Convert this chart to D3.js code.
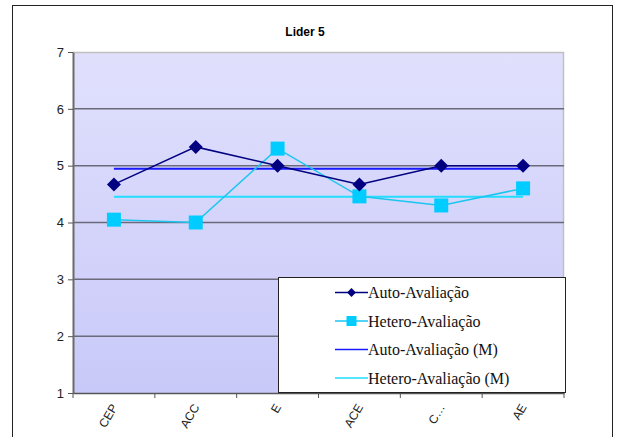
<!DOCTYPE html>
<html>
<head>
<meta charset="utf-8">
<script src="https://cdn.jsdelivr.net/npm/d3@7"></script>
<style>
  html, body { margin: 0; padding: 0; background: #fff; }
  svg { display: block; }
</style>
</head>
<body>
<svg id="chart" width="619" height="437"></svg>
<script>
// Competency categories and the two rating series for leader 5
const categories = ["CEP", "ACC", "E", "ACE", "C…", "AE"];
const autoValues = [4.67, 5.33, 5.0, 4.67, 5.0, 5.0];
const heteroValues = [4.05, 4.0, 5.3, 4.46, 4.3, 4.6];
const yTicks = [1, 2, 3, 4, 5, 6, 7];
const seriesNames = ["Auto-Avaliação", "Hetero-Avaliação", "Auto-Avaliação (M)", "Hetero-Avaliação (M)"];

const autoMean = d3.mean(autoValues);
const heteroMean = d3.mean(heteroValues);

const svg = d3.select("#chart");
const plot = { left: 73, top: 52, right: 564, bottom: 393 };

// Outer chart frame
svg.append("rect")
  .attr("x", 12.5).attr("y", 5.5)
  .attr("width", 600).attr("height", 440)
  .attr("fill", "#fff").attr("stroke", "#222").attr("stroke-width", 1);

// Title
svg.append("text")
  .attr("x", 305).attr("y", 36)
  .attr("text-anchor", "middle")
  .attr("font-family", "Liberation Sans, Arial, sans-serif")
  .attr("font-size", 12).attr("font-weight", "bold")
  .text("Lider 5");

const x = d3.scaleBand().domain(categories).range([plot.left, plot.right]);
const y = d3.scaleLinear().domain([1, 7]).range([plot.bottom, plot.top]);
const cx = d => x(d) + x.bandwidth() / 2;

// Plot background gradient
const defs = svg.append("defs");
const grad = defs.append("linearGradient").attr("id", "bg").attr("x1", 0).attr("y1", 0).attr("x2", 0).attr("y2", 1);
grad.append("stop").attr("offset", "0%").attr("stop-color", "#e0e0fd");
grad.append("stop").attr("offset", "100%").attr("stop-color", "#c9c9f9");

svg.append("rect")
  .attr("x", plot.left).attr("y", plot.top)
  .attr("width", plot.right - plot.left).attr("height", plot.bottom - plot.top)
  .attr("fill", "url(#bg)");

// Light frame on top and right
svg.append("path")
  .attr("d", `M${plot.left},${plot.top + 0.5}H${plot.right - 0.5}V${plot.bottom}`)
  .attr("fill", "none").attr("stroke", "#c0c0c0").attr("stroke-width", 1.5);

// Horizontal gridlines
svg.append("g").selectAll("line")
  .data(yTicks.filter(t => t > 1 && t < 7))
  .join("line")
  .attr("x1", plot.left).attr("x2", plot.right)
  .attr("y1", d => y(d)).attr("y2", d => y(d))
  .attr("stroke", "#6a6a7a").attr("stroke-width", 1.5);

// Y axis
const yAxis = svg.append("g")
  .attr("transform", `translate(${plot.left},0)`)
  .call(d3.axisLeft(y).tickValues(yTicks).tickSize(5).tickSizeOuter(0).tickFormat(d3.format("d")));
yAxis.select(".domain").attr("stroke", "#6a6a6a").attr("stroke-width", 2);
yAxis.selectAll(".tick line").attr("stroke", "#555");
yAxis.selectAll("text")
  .attr("font-family", "Liberation Sans, Arial, sans-serif")
  .attr("font-size", 13).attr("fill", "#222").attr("x", -9);

// X axis
const xAxis = svg.append("g")
  .attr("transform", `translate(0,${plot.bottom})`)
  .call(d3.axisBottom(x).tickSize(0).tickSizeOuter(0));
xAxis.select(".domain").attr("stroke", "#555").attr("stroke-width", 1.5);
xAxis.selectAll("text")
  .attr("font-family", "Liberation Sans, Arial, sans-serif")
  .attr("font-size", 12).attr("fill", "#222")
  .attr("text-anchor", "end")
  .attr("dy", 0).attr("y", 0)
  .attr("transform", "translate(4,14) rotate(-60)");
// Category boundary ticks
svg.append("g").selectAll("line")
  .data(d3.range(categories.length + 1))
  .join("line")
  .attr("x1", i => plot.left + i * x.bandwidth())
  .attr("x2", i => plot.left + i * x.bandwidth())
  .attr("y1", plot.bottom).attr("y2", plot.bottom + 5)
  .attr("stroke", "#555").attr("stroke-width", 1);

// Mean lines
svg.append("line")
  .attr("x1", cx(categories[0])).attr("x2", cx(categories[categories.length - 1]))
  .attr("y1", y(heteroMean)).attr("y2", y(heteroMean))
  .attr("stroke", "#22ddff").attr("stroke-width", 2);
svg.append("line")
  .attr("x1", cx(categories[0])).attr("x2", cx(categories[categories.length - 1]))
  .attr("y1", y(autoMean)).attr("y2", y(autoMean))
  .attr("stroke", "#1a1aff").attr("stroke-width", 2);

const line = d3.line().x((d, i) => cx(categories[i])).y(d => y(d));

// Hetero-evaluation series
svg.append("path").datum(heteroValues)
  .attr("d", line).attr("fill", "none")
  .attr("stroke", "#1ac6f0").attr("stroke-width", 1.5);
svg.append("g").selectAll("rect")
  .data(heteroValues).join("rect")
  .attr("x", (d, i) => cx(categories[i]) - 7)
  .attr("y", d => y(d) - 7)
  .attr("width", 14).attr("height", 14)
  .attr("fill", "#00ccff");

// Self-evaluation series
svg.append("path").datum(autoValues)
  .attr("d", line).attr("fill", "none")
  .attr("stroke", "#000080").attr("stroke-width", 1.5);
const diamond = d3.symbol().type(d3.symbolDiamond2).size(125);
svg.append("g").selectAll("path")
  .data(autoValues).join("path")
  .attr("d", diamond)
  .attr("transform", (d, i) => `translate(${cx(categories[i])},${y(d)})`)
  .attr("fill", "#000080");

// Legend
const lg = svg.append("g").attr("transform", "translate(278,277)");
lg.append("rect")
  .attr("x", 0.5).attr("y", 0.5).attr("width", 287).attr("height", 115)
  .attr("fill", "#fff").attr("stroke", "#222").attr("stroke-width", 1);
const legendStyle = [
  { color: "#000080", marker: "diamond" },
  { color: "#1ac6f0", marker: "square" },
  { color: "#1a1aff", marker: null },
  { color: "#22ddff", marker: null }
];
const rows = lg.selectAll("g.row").data(seriesNames).join("g")
  .attr("class", "row")
  .attr("transform", (d, i) => `translate(0,${15.5 + i * 28.5})`);
rows.append("line")
  .attr("x1", 57).attr("x2", 90).attr("y1", 0).attr("y2", 0)
  .attr("stroke", (d, i) => legendStyle[i].color).attr("stroke-width", 1.5);
rows.each(function (d, i) {
  const g = d3.select(this);
  if (legendStyle[i].marker === "diamond") {
    g.append("path").attr("d", d3.symbol().type(d3.symbolDiamond2).size(50))
      .attr("transform", "translate(73.5,0)").attr("fill", "#000080");
  } else if (legendStyle[i].marker === "square") {
    g.append("rect").attr("x", 68.5).attr("y", -5).attr("width", 10).attr("height", 10).attr("fill", "#00ccff");
  }
});
rows.append("text")
  .attr("x", 90).attr("y", 5.5)
  .attr("font-family", "Liberation Serif, Times New Roman, serif")
  .attr("font-size", 16).attr("fill", "#111")
  .text(d => d);
</script>
</body>
</html>
